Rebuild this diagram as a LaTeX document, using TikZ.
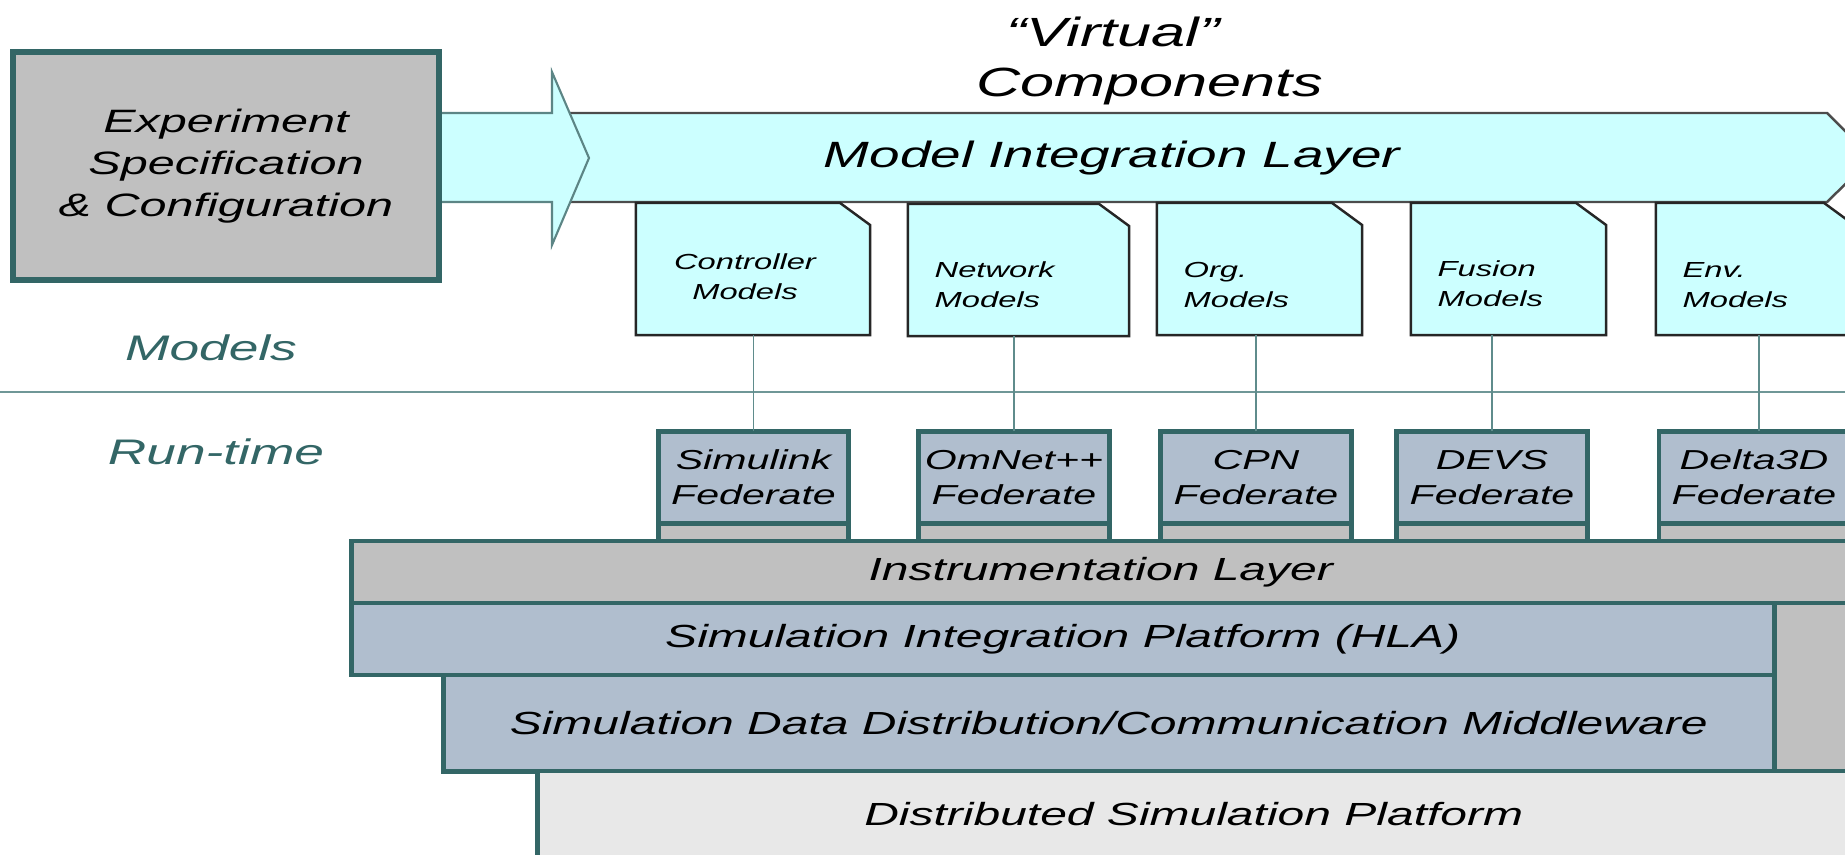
\documentclass[tikz,border=0pt]{standalone}
\usepackage{fontspec}
\setmainfont{Liberation Sans}[FakeStretch=1.5]
\usetikzlibrary{positioning, calc}

\definecolor{tealline}{RGB}{51,102,102}
\definecolor{bandcyan}{RGB}{204,255,255}
\definecolor{boxgray}{RGB}{192,192,192}
\definecolor{fedblue}{RGB}{176,190,206}
\definecolor{basegray}{RGB}{232,232,232}
\definecolor{wiregray}{RGB}{95,140,140}

\newcommand{\fsz}[2]{\fontsize{#1}{#2}\selectfont\itshape}
% model box outline with the clipped top-right corner
\newcommand{\modelshape}[1]{%
  \draw[modeledge] (#1.north west) -- ($(#1.north east)+(-30,0)$) -- ($(#1.north east)+(0,22)$)
      -- (#1.south east) -- (#1.south west) -- cycle;}

\begin{document}
\begin{tikzpicture}[x=0.01cm, y=-0.01cm,
    layerbox/.style={draw=tealline, line width=1.4pt, outer sep=0pt, inner sep=0pt, font=\fsz{9.1}{11}},
    fedbox/.style={draw=tealline, fill=fedblue, line width=1.4pt, outer sep=0pt, inner sep=0pt,
        minimum width=1.90cm, minimum height=0.92cm, align=center, font=\fsz{7.8}{10}},
    fedstrip/.style={draw=tealline, fill=boxgray, line width=1.4pt, outer sep=0pt, inner sep=0pt,
        minimum width=1.90cm, minimum height=0.175cm},
    modelbox/.style={rectangle, outer sep=0pt, inner sep=0pt, minimum height=1.32cm},
    modeledge/.style={draw=black!85, fill=bandcyan, line width=0.7pt},
    modeltext/.style={align=left, anchor=west, inner sep=0pt, font=\fsz{6.2}{8.5}},
    sidelabel/.style={text=tealline, inner sep=0pt, font=\fsz{10.1}{12}},
    wire/.style={draw=wiregray, line width=0.5pt}]

    \useasboundingbox (0,0) rectangle (1845,854);

    % ===================================================
    % 1. MODEL INTEGRATION BAND & INPUT ARROW
    % ===================================================
    \draw[fill=bandcyan, draw=black!70, line width=0.7pt]
        (560,113) -- (1827,113) -- (1872,158) -- (1827,202) -- (560,202) -- cycle;
    \draw[fill=bandcyan, draw=tealline!80, line width=0.6pt]
        (437,113) -- (552,113) -- (552,72) -- (589,158) -- (552,245) -- (552,202) -- (437,202) -- cycle;
    \node[inner sep=0pt, font=\fsz{10.4}{12}] (mil) at (1112,158) {Model Integration Layer};

    % Experiment box (sits on the arrow shaft)
    \node[draw=tealline, fill=boxgray, line width=1.6pt, minimum width=4.26cm, minimum height=2.28cm,
        align=center, font=\fsz{9.2}{12}] (exp) at (226,166)
        {Experiment\\Specification\\\& Configuration};

    % Heading
    \node[inner sep=0pt, font=\fsz{11.6}{14}] (comp) at (1150,86) {Components};
    \node[inner sep=0pt, font=\fsz{11.6}{14}] (virt) at (1113,32) {``Virtual''};

    % ===================================================
    % 2. MODELS (hanging under the band)
    % ===================================================
    \node[modelbox, minimum width=2.34cm] (ctrl) at (753,269) {};
    \node[modelbox, minimum width=2.21cm] (net)  at (1018.5,270) {};
    \node[modelbox, minimum width=2.05cm] (org)  at (1259.5,269) {};
    \node[modelbox, minimum width=1.95cm] (fus)  at (1508.5,269) {};
    \node[modelbox, minimum width=1.98cm] (env)  at (1755,269) {};
    \modelshape{ctrl} \modelshape{net} \modelshape{org} \modelshape{fus} \modelshape{env}

    \node[modeltext, anchor=center, align=center] (ctrlT) at ($(ctrl.center)+(-8,8)$) {Controller\\Models};
    \node[modeltext] (netT) at ($(net.west)+(26,15)$) {Network\\Models};
    \node[modeltext] (orgT) at ($(org.west)+(26,16)$) {Org.\\Models};
    \node[modeltext] (fusT) at ($(fus.west)+(26,15)$) {Fusion\\Models};
    \node[modeltext] (envT) at ($(env.west)+(26,16)$) {Env.\\Models};

    % Side labels and divider
    \node[sidelabel] (lblModels) at (211,348) {Models};
    \node[sidelabel] (lblRun) at (216,452) {Run-time};
    \draw[draw=wiregray!90, line width=0.6pt] (0,392) -- (1845,392);

    % ===================================================
    % 3. FEDERATES
    % ===================================================
    \node[fedbox] (fSim)   at (753.5,477.5) {Simulink\\Federate};
    \node[fedbox] (fOmn)   at (1014,477.5)  {OmNet++\\Federate};
    \node[fedbox] (fCpn)   at (1256,477.5)  {CPN\\Federate};
    \node[fedbox] (fDevs)  at (1492,477.5)  {DEVS\\Federate};
    \node[fedbox] (fDelta) at (1754,477.5)  {Delta3D\\Federate};

    \node[fedstrip, below=0pt of fSim]   (sSim) {};
    \node[fedstrip, below=0pt of fOmn]   (sOmn) {};
    \node[fedstrip, below=0pt of fCpn]   (sCpn) {};
    \node[fedstrip, below=0pt of fDevs]  (sDevs) {};
    \node[fedstrip, below=0pt of fDelta] (sDelta) {};

    % model -> federate links
    \draw[wire] (fSim.north)   -- (fSim.north |- ctrl.south);
    \draw[wire] (fOmn.north)   -- (fOmn.north |- net.south);
    \draw[wire] (fCpn.north)   -- (fCpn.north |- org.south);
    \draw[wire] (fDevs.north)  -- (fDevs.north |- fus.south);
    \draw[wire] ($(fDelta.north)+(5,0)$) -- ($(fDelta.north |- env.south)+(5,0)$);

    % ===================================================
    % 4. PLATFORM LAYERS
    % ===================================================
    % instrumentation: top band plus a column down the right side
    \node[layerbox, fill=boxgray, minimum width=0.76cm, minimum height=1.68cm] (instR) at (1812,687) {};
    \node[layerbox, fill=boxgray, minimum width=14.985cm, minimum height=0.62cm] (inst) at (1100.75,572)
        {Instrumentation Layer};

    \node[layerbox, fill=fedblue, minimum width=14.225cm, minimum height=0.72cm] (sip) at (1062.75,639)
        {Simulation Integration Platform (HLA)};
    \node[layerbox, fill=fedblue, minimum width=13.305cm, minimum height=0.96cm] (mw) at (1108.75,723)
        {Simulation Data Distribution/Communication Middleware};
    \node[layerbox, fill=basegray, minimum width=13.125cm, minimum height=0.87cm] (dsp) at (1193.75,814.5)
        {Distributed Simulation Platform};

\end{tikzpicture}
\end{document}
